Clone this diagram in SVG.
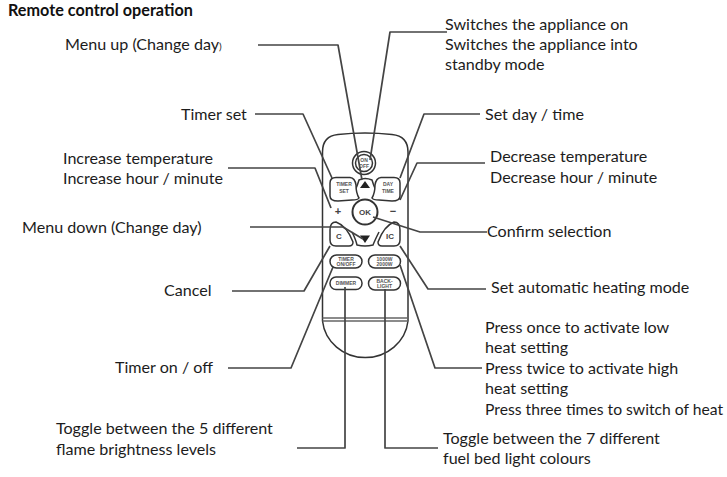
<svg xmlns="http://www.w3.org/2000/svg" width="727" height="477" viewBox="0 0 727 477">
<style>
text{font-family:"Lato","Liberation Sans",sans-serif;font-size:16.1px;fill:#1c1c1c}
.b{font-weight:bold;font-size:16.2px;fill:#111}
.l{fill:none;stroke:#444;stroke-width:1.7;stroke-linejoin:round}
.s{fill:#fff;stroke:#333;stroke-width:1.5}
.n{fill:none;stroke:#333;stroke-width:1.5}
.t{font-family:"Liberation Sans",sans-serif;font-size:5px;font-weight:bold;text-anchor:middle;fill:#555}
.k{font-family:"Liberation Sans",sans-serif;font-size:8px;font-weight:bold;text-anchor:middle;fill:#444}
</style>
<rect width="727" height="477" fill="#fff"/>
<g id="remote">
<path class="s" d="M322.5,152 Q322.5,136 338,134.500 Q365,131.500 392,134.500 Q408,136 408,152 L408,321 A43,41 0 0 1 322.500,321 Z"/>
<path class="n" style="stroke:#666" d="M322.500,318 H408 M322.500,321 H408"/>
</g>
<g id="btn-power"><circle class="n" cx="364" cy="163" r="11.500"/><circle class="n" cx="364" cy="163" r="8.500"/><text class="t" x="364" y="162">ON</text><text class="t" x="364" y="168">OFF</text></g>
<g id="btn-up"><path class="n" d="M352,196 Q356,190 359,180 Q365,177 372,180 Q375,190 379,196"/><path d="M365,181 L370,188 H360 Z" fill="#222"/></g>
<g id="btn-timer-set"><path class="s" d="M330,183 Q330,177.500 336,177.500 L350,177.500 Q355,178 356,185 Q356,193 359,198 Q358,200 352,200 L338,201 Q330,201 330,196 Z"/><text class="t" x="344" y="186">TIMER</text><text class="t" x="344" y="193">SET</text></g>
<g id="btn-day-time"><path class="s" d="M400,183 Q400,177.500 394,177.500 L381,177.500 Q376,178 375,185 Q375,193 372,198 Q373,200 379,200 L392,201 Q400,201 400,196 Z"/><text class="t" x="388" y="186">DAY</text><text class="t" x="388" y="193">TIME</text></g>
<g id="btn-plus"><text class="k" x="338" y="215" style="font-size:11px">+</text></g>
<g id="btn-minus"><text class="k" x="393" y="215" style="font-size:11px">−</text></g>
<g id="btn-ok"><circle cx="365" cy="212" r="12.500" fill="#fff" stroke="#333" stroke-width="2"/><text class="k" x="365" y="215">OK</text></g>
<g id="btn-c"><path class="s" d="M330,230 Q330,222 336,222 Q347,226 353,242 Q353,246 349,246 L336,246 Q330,246 330,240 Z"/><text class="k" x="339" y="239">C</text></g>
<g id="btn-down"><path class="n" d="M352,232 Q356,240 357,245 Q365,247 373,245 Q375,240 379,232"/><path d="M365,243 L370,235.500 H360 Z" fill="#222"/></g>
<g id="btn-ic"><path class="s" d="M400,230 Q400,222 394,222 Q384,226 378,242 Q378,246 382,246 L394,246 Q400,246 400,240 Z"/><text class="k" x="390" y="239">IC</text></g>
<g id="btn-timer-onoff"><rect class="s" x="330" y="255" width="32" height="13" rx="6.500"/><text class="t" x="346" y="260.500">TIMER</text><text class="t" x="346" y="266">ON/OFF</text></g>
<g id="btn-power-level"><rect class="s" x="368.500" y="255" width="32" height="13" rx="6.500"/><text class="t" x="384.500" y="260.500">1000W</text><text class="t" x="384.500" y="266">2000W</text></g>
<g id="btn-dimmer"><rect class="s" x="330" y="277" width="32" height="12.500" rx="6"/><text class="t" x="346" y="285">DIMMER</text></g>
<g id="btn-backlight"><rect class="s" x="368.500" y="277" width="32" height="13" rx="6.500"/><text class="t" x="384.500" y="282.500">BACK-</text><text class="t" x="384.500" y="288">LIGHT</text></g>
<g id="connectors">
<path class="l" d="M258,45 H338 L362,180"/>
<path class="l" d="M447,32 H390 L370,160"/>
<path class="l" d="M255,114 H303 L332,178"/>
<path class="l" d="M480,114 H424 L400,178"/>
<path class="l" d="M228,168 H315 L331,208"/>
<path class="l" d="M485,163 H417 L400,200"/>
<path class="l" d="M250,227 H343 L363,239"/>
<path class="l" d="M373,217 L420,232 H487"/>
<path class="l" d="M232,291 H304 L330,246"/>
<path class="l" d="M228,368 H291 L333,267"/>
<path class="l" d="M486,289 H428 L400,246"/>
<path class="l" d="M482,368 H435 L400,265"/>
<path class="l" d="M345,287 V448 H297"/>
<path class="l" d="M385,289 V448 H438"/>
</g>
<g id="labels">
<text class="b" x="8" y="15.500">Remote control operation</text>
<text x="65" y="50">Menu up (Change day<tspan style="font-size:10px">)</tspan></text>
<text x="445" y="30">Switches the appliance on</text>
<text x="445" y="50">Switches the appliance into</text>
<text x="445" y="70">standby mode</text>
<text x="181" y="120">Timer set</text>
<text x="485" y="120">Set day / time</text>
<text x="63" y="164">Increase temperature</text>
<text x="63" y="184">Increase hour / minute</text>
<text x="490" y="162">Decrease temperature</text>
<text x="490" y="183">Decrease hour / minute</text>
<text x="22" y="233">Menu down (Change day)</text>
<text x="487" y="237">Confirm selection</text>
<text x="164" y="296">Cancel</text>
<text x="491" y="293">Set automatic heating mode</text>
<text x="485" y="333">Press once to activate low</text>
<text x="485" y="353">heat setting</text>
<text x="485" y="374">Press twice to activate high</text>
<text x="485" y="394">heat setting</text>
<text x="485" y="415" style="font-size:15.7px">Press three times to switch of heat</text>
<text x="115" y="373">Timer on / off</text>
<text x="56" y="434">Toggle between the 5 different</text>
<text x="56" y="455">flame brightness levels</text>
<text x="443" y="444">Toggle between the 7 different</text>
<text x="443" y="464">fuel bed light colours</text>
</g>
</svg>
